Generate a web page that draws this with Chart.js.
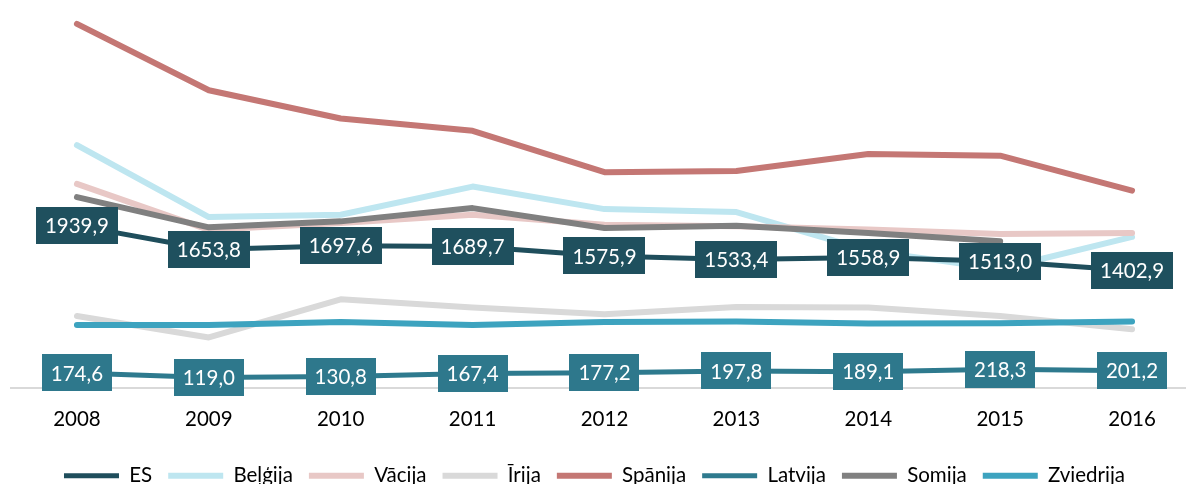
<!DOCTYPE html>
<html>
<head>
<meta charset="utf-8">
<script src="https://cdn.jsdelivr.net/npm/chart.js@4.4.1/dist/chart.umd.min.js"></script>
<style>
  html, body { margin: 0; padding: 0; background: #fff; overflow: hidden; }
  canvas { display: block; }
</style>
</head>
<body>
<canvas id="chart" width="1212" height="496"></canvas>
<script>
const years = ['2008', '2009', '2010', '2011', '2012', '2013', '2014', '2015', '2016'];

const es        = [1939.9, 1653.8, 1697.6, 1689.7, 1575.9, 1533.4, 1558.9, 1513.0, 1402.9];
const belgija   = [2905, 2043, 2070, 2408, 2138, 2103, 1640, 1420, 1805];
const vacija    = [2440, 1889, 1972, 2070, 1951, 1931, 1892, 1840, 1852];
const irija     = [857, 600, 1057, 958, 878, 965, 958, 858, 699];
const spanija   = [4357, 3562, 3224, 3076, 2580, 2595, 2798, 2778, 2360];
const latvija   = [174.6, 119.0, 130.8, 167.4, 177.2, 197.8, 189.1, 218.3, 201.2];
const somija    = [2282, 1919, 1991, 2150, 1912, 1939, 1852, 1752, null];
const zviedrija = [750, 750, 786, 750, 786, 791, 767, 770, 791];

const FONT = 'Lato, "Open Sans", sans-serif';

function fmt(v) {
  return v.toFixed(1).replace('.', ',');
}

// value boxes drawn on top of the ES and Latvija lines
const boxLabels = {
  id: 'boxLabels',
  afterDatasetsDraw(chart) {
    const ctx = chart.ctx;
    chart.data.datasets.forEach((ds, i) => {
      if (!ds.boxColor) return;
      const meta = chart.getDatasetMeta(i);
      ctx.save();
      ctx.font = '20.5px ' + FONT;
      ctx.textAlign = 'center';
      ctx.textBaseline = 'middle';
      meta.data.forEach((pt, j) => {
        const txt = fmt(ds.data[j]);
        const w = ctx.measureText(txt).width + 18;
        const h = 37;
        ctx.fillStyle = ds.boxColor;
        ctx.fillRect(Math.round(pt.x - w / 2), Math.round(pt.y - h / 2), Math.round(w), h);
        ctx.fillStyle = '#ffffff';
        ctx.fillText(txt, pt.x, pt.y + 1);
      });
      ctx.restore();
    });
  }
};

// nudge the legend row a little to the left, like the original
const legendShift = {
  id: 'legendShift',
  afterLayout(chart) {
    if (!chart.legend) return;
    chart.legend.left -= 10;
    chart.legend.right -= 10;
  }
};

function line(label, data, color, order, width) {
  return {
    label,
    data,
    borderColor: color,
    backgroundColor: color,
    borderWidth: width || 6,
    borderCapStyle: 'round',
    borderJoinStyle: 'round',
    pointRadius: 0,
    pointHoverRadius: 0,
    tension: 0,
    fill: false,
    order,
  };
}

const datasets = [
  Object.assign(line('ES', es, '#1F4E5C', 0, 5), { boxColor: '#1F505E' }),
  line('Beļģija', belgija, '#BEE6F0', 6),
  line('Vācija', vacija, '#E8C8C6', 5),
  line('Īrija', irija, '#D9D9D9', 7),
  line('Spānija', spanija, '#C47774', 2),
  Object.assign(line('Latvija', latvija, '#2E7A8E', 1, 5), { boxColor: '#2E788C' }),
  line('Somija', somija, '#808080', 4),
  line('Zviedrija', zviedrija, '#3DA3BF', 3),
];

new Chart(document.getElementById('chart'), {
  type: 'line',
  data: { labels: years, datasets },
  plugins: [boxLabels, legendShift],
  options: {
    responsive: false,
    animation: false,
    layout: { padding: { left: 11, right: 14, top: 12, bottom: 0 } },
    plugins: {
      legend: {
        position: 'bottom',
        labels: {
          usePointStyle: true,
          pointStyle: 'line',
          pointStyleWidth: 55,
          padding: 16,
          color: '#000',
          font: { family: FONT, size: 20.5 },
          sort: (a, b) => a.datasetIndex - b.datasetIndex,
        },
      },
      tooltip: { enabled: false },
    },
    scales: {
      x: {
        offset: true,
        grid: { display: false, drawTicks: false },
        border: { display: true, color: '#D9D9D9', width: 2 },
        ticks: {
          color: '#000',
          padding: 20,
          font: { family: FONT, size: 20.5 },
          maxRotation: 0,
        },
        afterFit(scale) {
          scale.height = 62;
        },
      },
      y: {
        display: false,
        min: 0,
        max: 4500,
      },
    },
  },
});
</script>
</body>
</html>
